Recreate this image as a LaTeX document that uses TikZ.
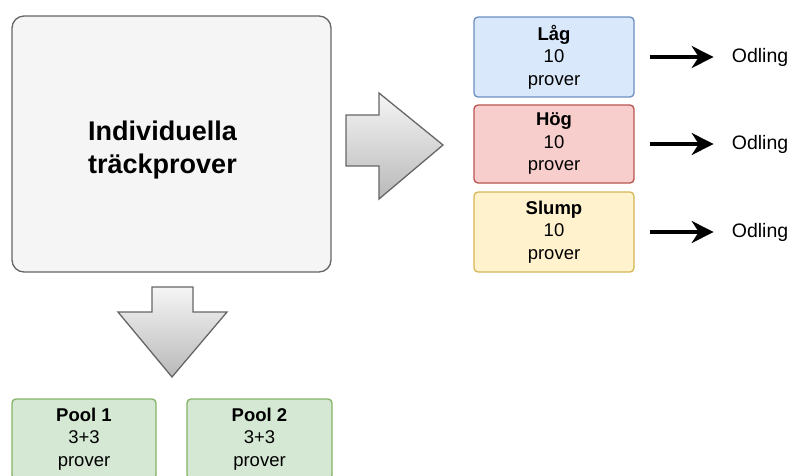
\documentclass[tikz,border=0pt]{standalone}
\usepackage{fontspec}
\setmainfont{Liberation Sans}
\usetikzlibrary{arrows.meta}
\definecolor{mainfill}{HTML}{F5F5F5}
\definecolor{mainline}{HTML}{666666}
\definecolor{lowfill}{HTML}{DAE8FC}
\definecolor{lowline}{HTML}{6C8EBF}
\definecolor{highfill}{HTML}{F8CECC}
\definecolor{highline}{HTML}{B85450}
\definecolor{randfill}{HTML}{FFF2CC}
\definecolor{randline}{HTML}{D6B656}
\definecolor{poolfill}{HTML}{D5E8D4}
\definecolor{poolline}{HTML}{82B366}
\tikzset{> = {Stealth[length = 22pt, width = 22pt]}}
\tikzstyle{box} = [draw, rounded corners = 4pt, line width = 1.3pt, align = center,
	minimum width = 160pt, minimum height = 80pt, inner sep = 0pt,
	font = \fontsize{18.5}{22.5}\selectfont]
\tikzstyle{bigarrow} = [draw = mainline, line width = 1.3pt, top color = mainfill, bottom color = gray!55]

\begin{document}
\begin{tikzpicture}[x = 1pt, y = -1pt]
					\useasboundingbox (0, 0) rectangle (793, 475);

					\node [box, fill = mainfill, draw = mainline, rounded corners = 12pt,
						minimum width = 319pt, minimum height = 256pt] (samples) at (171.5, 144) {};
					\node [align = center, font = \fontsize{27}{32.5}\selectfont\bfseries] (samplestext)
						at ([xshift = -9pt, yshift = -6pt] samples.center) {Individuella\\träckprover};

					\node [box, fill = lowfill, draw = lowline] (low) at (554, 57) {\textbf{Låg}\\10\\prover};
					\node [box, fill = highfill, draw = highline, minimum height = 78pt] (high) at (554, 144) {\textbf{Hög}\\10\\prover};
					\node [box, fill = randfill, draw = randline] (rand) at (554, 232) {\textbf{Slump}\\10\\prover};

					\node [box, fill = poolfill, draw = poolline, minimum width = 144pt] (pool1) at (84, 439) {\textbf{Pool 1}\\3+3\\prover};
					\node [box, fill = poolfill, draw = poolline, minimum width = 145pt] (pool2) at (259.5, 439) {\textbf{Pool 2}\\3+3\\prover};

					% Block arrow to the right.
					\draw [bigarrow] (346, 115)
						to (379, 115)
						to (379, 93)
						to (443, 145)
						to (379, 199)
						to (379, 166)
						to (346, 166)
						to cycle;

					% Block arrow downwards.
					\draw [bigarrow] (152, 287)
						to (193, 287)
						to (193, 312)
						to (227, 312)
						to (172, 377)
						to (118, 312)
						to (152, 312)
						to cycle;

					\foreach \n/\src in {1/low, 2/high, 3/rand} {
						\node [anchor = west, inner sep = 0pt, font = \fontsize{19.5}{22}\selectfont] (grow\n) at ([xshift = 97pt] \src.east) {Odling};
						\draw [->, line width = 3.3pt] ([xshift = 15pt] \src.east) to ([xshift = -18pt] grow\n.west);
					}
				\end{tikzpicture}
\end{document}
